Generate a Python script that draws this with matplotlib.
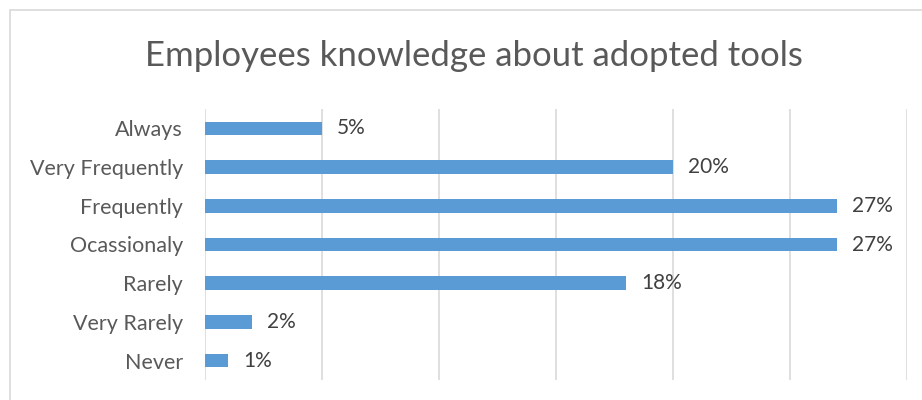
import matplotlib.pyplot as plt
from matplotlib.patches import Rectangle

categories = ["Always", "Very Frequently", "Frequently", "Ocassionaly",
              "Rarely", "Very Rarely", "Never"]
values = [5, 20, 27, 27, 18, 2, 1]
value_labels = ["5%", "20%", "27%", "27%", "18%", "2%", "1%"]

plt.rcParams['font.family'] = ['Lato', 'DejaVu Sans']

fig = plt.figure(figsize=(9.22, 4.0), dpi=100)
W, H = 922, 400

# outer chart frame (top and left edges visible)
fig.patches.append(Rectangle((10 / W, -0.1), 1.2, (H - 10) / H + 0.1,
                             transform=fig.transFigure, fill=False,
                             edgecolor="#D9D9D9", linewidth=1.2))

ax = fig.add_axes([205 / W, 20 / H, (907 - 205) / W, (380 - 109) / H])

y = list(range(len(categories)))
ax.barh(y, values, height=0.35, color="#5B9BD5", zorder=3)
ax.set_ylim(len(categories) - 0.5, -0.5)
ax.set_xlim(0, 30)
ax.set_xticks([0, 5, 10, 15, 20, 25, 30])
ax.set_xticklabels([])
ax.xaxis.grid(True, color="#D9D9D9", linewidth=1.2, zorder=0)
ax.tick_params(axis="both", length=0)
ax.set_yticks(y)
ax.set_yticklabels(categories, fontsize=15.5, color="#595959")
ax.tick_params(axis="y", pad=16)
for s in ax.spines.values():
    s.set_visible(False)

for yi, v, lab in zip(y, values, value_labels):
    ax.annotate(lab, (v, yi), xytext=(11, 0), textcoords="offset points",
                va="center", ha="left", fontsize=15, color="#404040")

fig.text(474 / W, (400 - 56) / H, "Employees knowledge about adopted tools",
         ha="center", va="center", fontsize=25, color="#595959")

fig.savefig("out.png", dpi=100)
